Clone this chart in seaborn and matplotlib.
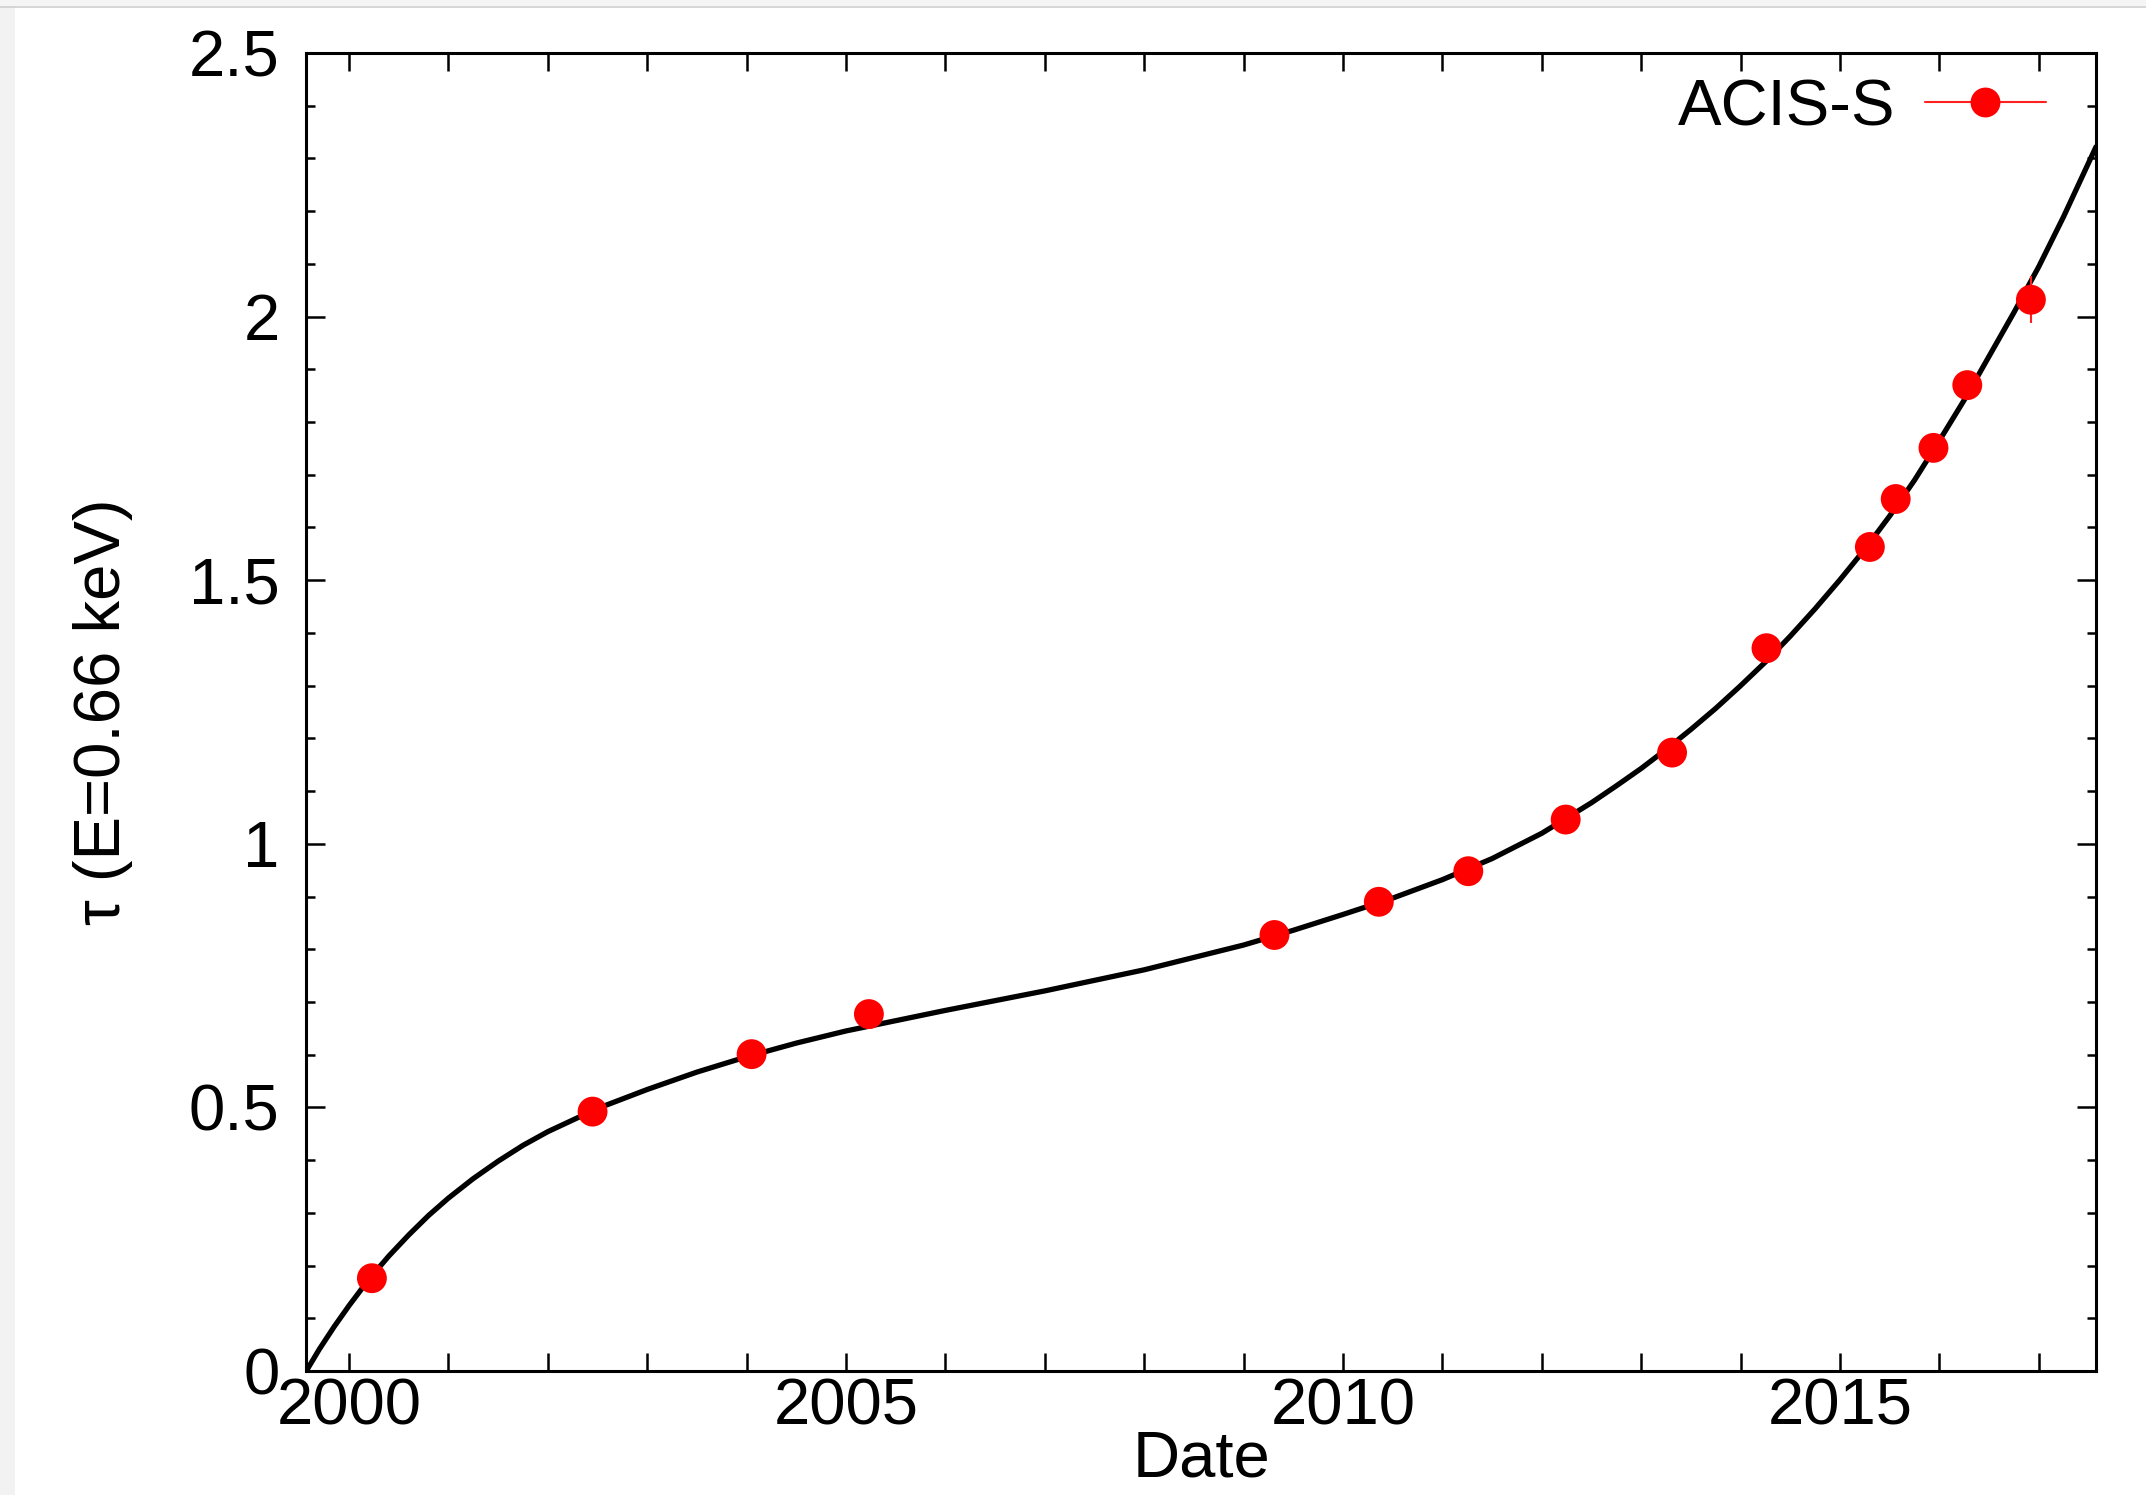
import matplotlib
matplotlib.use("Agg")
import matplotlib.pyplot as plt
import seaborn as sns
from matplotlib.ticker import MultipleLocator, FixedLocator
from matplotlib.lines import Line2D
from matplotlib.patches import Rectangle

# ---- data ----
obs_year = [2000.23, 2002.45, 2004.05, 2005.23, 2009.31, 2010.36, 2011.26,
            2012.24, 2013.31, 2014.26, 2015.30, 2015.56, 2015.94, 2016.28, 2016.92]
obs_tau = [0.176, 0.492, 0.601, 0.677, 0.827, 0.890, 0.948,
           1.046, 1.173, 1.371, 1.563, 1.654, 1.751, 1.870, 2.032]
obs_err = [0.010, 0.010, 0.010, 0.010, 0.010, 0.010, 0.010,
           0.010, 0.012, 0.015, 0.015, 0.015, 0.018, 0.020, 0.045]

fit_year = [1999.57, 1999.70, 1999.85, 2000.00, 2000.20, 2000.40, 2000.60, 2000.80,
            2001.00, 2001.25, 2001.50, 2001.75, 2002.00, 2002.50, 2003.00, 2003.50,
            2004.00, 2004.50, 2005.00, 2006.00, 2007.00, 2008.00, 2009.00, 2009.50,
            2010.00, 2010.50, 2011.00, 2011.25, 2011.50, 2011.75, 2012.00, 2012.25,
            2012.50, 2012.75, 2013.00, 2013.25, 2013.50, 2013.75, 2014.00, 2014.25,
            2014.50, 2014.75, 2015.00, 2015.25, 2015.50, 2015.75, 2016.00, 2016.25,
            2016.50, 2016.75, 2017.00, 2017.25, 2017.575]
fit_tau = [0.000, 0.041, 0.084, 0.124, 0.174, 0.218, 0.258, 0.295,
           0.328, 0.365, 0.398, 0.428, 0.454, 0.498, 0.534, 0.567,
           0.596, 0.622, 0.645, 0.684, 0.721, 0.761, 0.808, 0.836,
           0.866, 0.897, 0.932, 0.952, 0.972, 0.996, 1.020, 1.049,
           1.078, 1.110, 1.143, 1.179, 1.217, 1.257, 1.300, 1.345,
           1.394, 1.446, 1.501, 1.559, 1.622, 1.690, 1.765, 1.842,
           1.925, 2.008, 2.095, 2.190, 2.322]

series_label = "ACIS-S"
x_label = "Date"
y_label = "τ (E=0.66 keV)"
x_ticks = [2000, 2005, 2010, 2015]
x_tick_labels = ["2000", "2005", "2010", "2015"]
y_ticks = [0, 0.5, 1, 1.5, 2, 2.5]
y_tick_labels = ["0", "0.5", "1", "1.5", "2", "2.5"]

# ---- style ----
sns.set_theme(style="ticks")
plt.rcParams['font.family'] = ['Liberation Sans', 'DejaVu Sans']
plt.rcParams['text.color'] = 'black'
plt.rcParams['axes.labelcolor'] = 'black'
plt.rcParams['xtick.color'] = 'black'
plt.rcParams['ytick.color'] = 'black'
plt.rcParams['lines.solid_joinstyle'] = 'round'
FS = 47

W, H = 2146, 1495
fig = plt.figure(figsize=(W / 100, H / 100), dpi=100)
fig.patch.set_facecolor("white")
L, R, T, B = 306, 2096, 53, 1371
ax = fig.add_axes([L / W, 1 - B / H, (R - L) / W, (B - T) / H])
ax.set_facecolor("white")

# screenshot frame
fig.add_artist(Rectangle((0, 0), 15 / W, 1, transform=fig.transFigure,
                         facecolor="#f2f2f2", edgecolor="none", zorder=-5))
fig.add_artist(Rectangle((0, 1 - 6 / H), 1, 6 / H, transform=fig.transFigure,
                         facecolor="#f5f5f5", edgecolor="none", zorder=-5))
fig.add_artist(Line2D([0, 1], [1 - 6.5 / H, 1 - 6.5 / H], transform=fig.transFigure,
                      color="#cfcfcf", lw=1.2))

# fit curve
sns.lineplot(x=fit_year, y=fit_tau, ax=ax, color="black", linewidth=3.8,
             estimator=None, sort=False, zorder=2)
# error bars
ax.errorbar(obs_year, obs_tau, yerr=obs_err, fmt="none", ecolor="#ff2020",
            elinewidth=1.5, capsize=0, zorder=3)
# points
sns.scatterplot(x=obs_year, y=obs_tau, ax=ax, color="red", s=21.5 ** 2,
                edgecolor="none", linewidth=0, zorder=4)

ax.set_xlim(1999.567, 2017.575)
ax.set_ylim(0, 2.5)

ax.xaxis.set_major_locator(FixedLocator(x_ticks))
ax.set_xticklabels(x_tick_labels)
ax.xaxis.set_minor_locator(MultipleLocator(1))
ax.yaxis.set_major_locator(FixedLocator(y_ticks))
ax.set_yticklabels(y_tick_labels)
ax.yaxis.set_minor_locator(MultipleLocator(0.1))

ax.tick_params(axis="both", which="both", direction="in", top=True, right=True,
               colors="black", labelcolor="black", labelsize=FS, width=1.8)
ax.tick_params(axis="x", which="both", length=13, pad=5)
ax.tick_params(axis="y", which="major", length=13.7, pad=19)
ax.tick_params(axis="y", which="minor", length=6.5)

for sp in ax.spines.values():
    sp.set_visible(True)
    sp.set_linewidth(2.2)
    sp.set_color("black")

ax.set_xlabel(x_label, fontsize=FS, labelpad=-6, color="black")
ax.set_ylabel(y_label, fontsize=FS, labelpad=40, color="black")

handle = Line2D([], [], color="#ff2020", lw=1.5, marker="o", markersize=21.5,
                markerfacecolor="red", markeredgewidth=0)
leg = ax.legend(handles=[handle], labels=[series_label], loc="center right",
                bbox_to_anchor=((2046 - L) / (R - L), 1 - (108 - T) / (B - T)),
                frameon=False, markerfirst=False, fontsize=FS, handlelength=1.86,
                handletextpad=0.44, borderpad=0, borderaxespad=0)
for t in leg.get_texts():
    t.set_color("black")

fig.savefig("out.png", dpi=100)
